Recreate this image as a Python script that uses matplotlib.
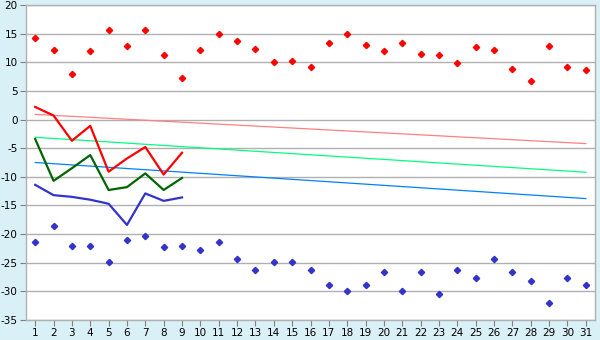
import matplotlib
matplotlib.use("Agg")
import matplotlib.pyplot as plt
from matplotlib.ticker import FuncFormatter

days = list(range(1, 32))
max_pts = [14.3, 12.2, 8.0, 12.0, 15.6, 12.8, 15.6, 11.2, 7.2, 12.1,
           15.0, 13.7, 12.4, 10.0, 10.3, 9.1, 13.3, 14.9, 13.0, 11.9,
           13.3, 11.4, 11.2, 9.8, 12.6, 12.1, 8.9, 6.7, 12.8, 9.1, 8.6]
min_pts = [-21.4, -18.5, -22.1, -22.1, -24.9, -21.1, -20.4, -22.3, -22.1, -22.8,
           -21.4, -24.4, -26.2, -24.9, -24.9, -26.3, -28.9, -30.0, -28.9, -26.7,
           -30.0, -26.7, -30.5, -26.2, -27.7, -24.4, -26.7, -28.2, -32.1, -27.7, -28.9]
line_days = list(range(1, 10))
red_line = [2.2, 0.7, -3.7, -1.1, -9.1, -6.8, -4.8, -9.6, -5.8]
green_line = [-3.4, -10.7, -8.5, -6.2, -12.3, -11.8, -9.4, -12.3, -10.2]
blue_line = [-11.4, -13.2, -13.5, -14.0, -14.7, -18.4, -12.9, -14.2, -13.6]
trend_days = [1, 31]
trend_red = [0.9, -4.2]
trend_green = [-3.1, -9.2]
trend_blue = [-7.5, -13.8]
yticks = list(range(-35, 21, 5))

bg = "#d9f0f7"
grid_c = "#b0b0b0"
fig = plt.figure(figsize=(6, 3.4), dpi=100, facecolor=bg)
ax = fig.add_axes([26/600, 1-320/340, 569/600, 315/340])
ax.set_facecolor("white")

ax.plot(trend_days, trend_red, color="#ff8080", lw=0.9, zorder=2)
ax.plot(trend_days, trend_green, color="#00ff80", lw=0.9, zorder=2)
ax.plot(trend_days, trend_blue, color="#0080ff", lw=0.9, zorder=2)

ax.plot(line_days, red_line, color="#ff0000", lw=1.6, zorder=3)
ax.plot(line_days, green_line, color="#006600", lw=1.6, zorder=3)
ax.plot(line_days, blue_line, color="#3333cc", lw=1.6, zorder=3)

ax.plot(days, max_pts, ls="none", marker="D", ms=3.2, color="#ff0000", zorder=4)
ax.plot(days, min_pts, ls="none", marker="D", ms=3.2, color="#3333cc", zorder=4)

ax.set_xlim(0.5, 31.5)
ax.set_ylim(-35, 20)
ax.set_xticks(days)
ax.set_yticks(yticks)
ax.yaxis.set_major_formatter(FuncFormatter(lambda v, p: f"{int(v)}".replace("\u2212", "-")))
ax.yaxis.grid(True, color=grid_c, lw=1)
ax.set_axisbelow(True)
for s in ax.spines.values():
    s.set_color(grid_c)
    s.set_linewidth(1)
ax.tick_params(axis="both", colors="#000000", labelsize=7.5, length=4, width=0.8,
               direction="out", pad=2)
ax.tick_params(axis="both", color="#808080")

fig.savefig("out.png", dpi=100, facecolor=bg)
